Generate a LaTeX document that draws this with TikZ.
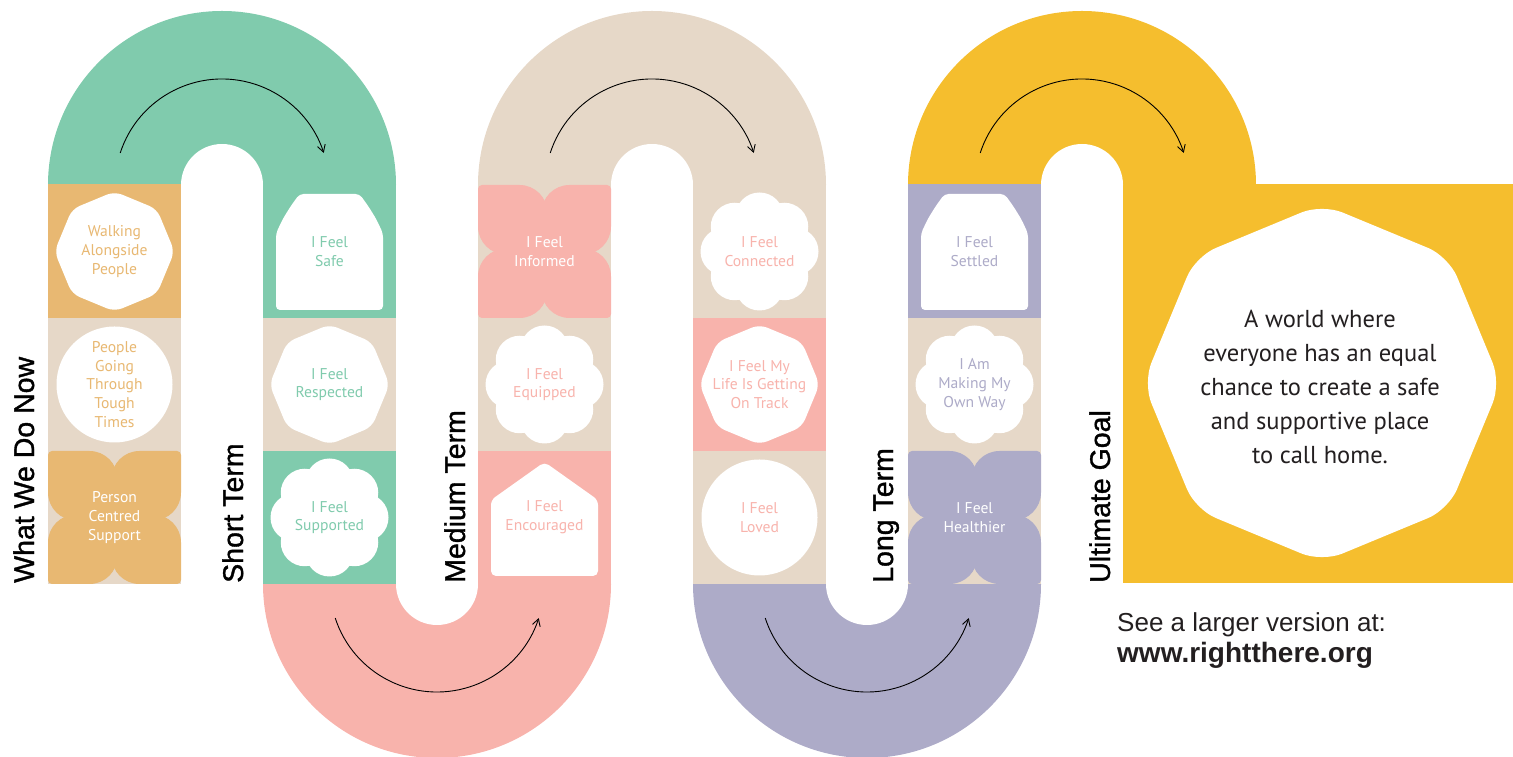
\documentclass[tikz,border=0pt]{standalone}
\usepackage{fontspec}
\setmainfont{PT Sans}
\newfontfamily\labelfont[FakeBold=1.2]{Liberation Sans}
\newfontfamily\footfont{Liberation Sans}
\usetikzlibrary{arrows.meta}
\definecolor{cgreen}{HTML}{80CBAD}
\definecolor{corange}{HTML}{E8B872}
\definecolor{cbeige}{HTML}{E6D8C8}
\definecolor{cpink}{HTML}{F8B3AC}
\definecolor{cpurple}{HTML}{ADABC8}
\definecolor{cyellow}{HTML}{F5BE2E}
\definecolor{cdark}{HTML}{231F20}
\newcommand{\ShapeOct}[4]{\begin{scope}[shift={(#1,#2)}]
  \fill[white,rounded corners=#4] (90:#3) -- (135:#3) -- (180:#3) -- (225:#3) -- (270:#3) -- (315:#3) -- (0:#3) -- (45:#3) -- cycle;
  \end{scope}}
\newcommand{\ShapeFlower}[2]{\begin{scope}[shift={(#1,#2)}]
  \fill[white] (0,0) circle[radius=40pt];
  \foreach \a in {90,135,...,405} \fill[white] (\a:35pt) circle[radius=24pt];
  \end{scope}}
\newcommand{\ShapeArch}[2]{\begin{scope}[shift={(#1,#2)}]
  \fill[white,rounded corners=4pt] (-53.5,-58.5) -- (-53.5,18) -- (-47,32) -- (-39,45) -- (-30,57.5) -- (30,57.5) -- (39,45) -- (47,32) -- (53.5,18) -- (53.5,-58.5) -- cycle;
  \end{scope}}
\newcommand{\ShapeHouse}[2]{\begin{scope}[shift={(#1,#2)}]
  \fill[white,rounded corners=5pt] (-53.5,-58.5) -- (-53.5,17.5) -- (0,55.5) -- (53.5,17.5) -- (53.5,-58.5) -- cycle;
  \end{scope}}
\newcommand{\ShapeQuad}[3]{\begin{scope}[shift={(#1,#2)}]
  \foreach \r in {0,90,180,270}
    \fill[#3,rotate=\r] (-66.5,62.5) arc[start angle=180,end angle=90,radius=4pt] -- (-25,66.5) arc[start angle=90,end angle=0,radius=28pt] -- (3,-3) -- (-38.5,-3) arc[start angle=270,end angle=180,radius=28pt] -- cycle;
  \end{scope}}
\newcommand{\ShapeDisc}[2]{\fill[white] (#1,#2) circle[radius=58pt];}
\begin{document}
\begin{tikzpicture}[x=1pt,y=1pt,
  celltext/.style={align=center,font=\fontsize{15.6}{18.6}\selectfont,inner sep=0pt},
  stagelabel/.style={rotate=90,anchor=base west,font=\labelfont\fontsize{28.5}{30}\selectfont,text=black,inner sep=0pt},
  flowarrow/.style={draw=black,line width=0.9pt,-{Straight Barb[length=7pt,width=8pt]}}]
\useasboundingbox (0,0) rectangle (1513,757);
\clip (0,0) rectangle (1513,757);
% bands
\fill[cgreen] (48,572) arc[start angle=180,end angle=0,radius=174pt] -- cycle;
\fill[cbeige] (478,572) arc[start angle=180,end angle=0,radius=174pt] -- cycle;
\fill[cyellow] (908,572) arc[start angle=180,end angle=0,radius=174pt] -- cycle;
\fill[cyellow] (1123,174) rectangle (1513,573);
\fill[cpink] (263,173) arc[start angle=180,end angle=360,radius=174pt] -- cycle;
\fill[cpurple] (693,173) arc[start angle=180,end angle=360,radius=174pt] -- cycle;
% column 1
\fill[corange] (48,439) rectangle (181,572.5);
\fill[cbeige] (48,306) rectangle (181,439);
\fill[cbeige] (48,173) rectangle (181,306);
% column 2
\fill[cgreen] (263,439) rectangle (396,572.5);
\fill[cbeige] (263,306) rectangle (396,439);
\fill[cgreen] (263,172.5) rectangle (396,306);
% column 3
\fill[cbeige] (478,439) rectangle (611,572.5);
\fill[cbeige] (478,306) rectangle (611,439);
\fill[cpink] (478,172.5) rectangle (611,306);
% column 4
\fill[cbeige] (693,439) rectangle (826,572.5);
\fill[cpink] (693,306) rectangle (826,439);
\fill[cbeige] (693,173) rectangle (826,306);
% column 5
\fill[cpurple] (908,439) rectangle (1041,572.5);
\fill[cbeige] (908,306) rectangle (1041,439);
\fill[cbeige] (908,173) rectangle (1041,306);
% inner holes
\fill[white] (222,572) circle[radius=41pt];
\fill[white] (652,572) circle[radius=41pt];
\fill[white] (1082,572) circle[radius=41pt];
\fill[white] (437,173) circle[radius=41pt];
\fill[white] (867,173) circle[radius=41pt];
% shapes
\ShapeOct{114.5}{505.5}{60pt}{8pt}
\ShapeDisc{114.5}{372.5}
\ShapeQuad{114.5}{239.5}{corange}
\ShapeArch{329.5}{505.5}
\ShapeOct{329.5}{372.5}{60pt}{8pt}
\ShapeFlower{329.5}{239.5}
\ShapeQuad{544.5}{505.5}{cpink}
\ShapeFlower{544.5}{372.5}
\ShapeHouse{544.5}{239.5}
\ShapeFlower{759.5}{505.5}
\ShapeOct{759.5}{372.5}{60pt}{8pt}
\ShapeDisc{759.5}{239.5}
\ShapeArch{974.5}{505.5}
\ShapeFlower{974.5}{372.5}
\ShapeQuad{974.5}{239.5}{cpurple}
% cell texts
\node[celltext,text=corange] (t11) at (114.5,505.5) {Walking\\Alongside\\People};
\node[celltext,text=corange] (t12) at (114.5,372.5) {People\\Going\\Through\\Tough\\Times};
\node[celltext,text=white] (t13) at (114.5,239.5) {Person\\Centred\\Support};
\node[celltext,text=cgreen] (t21) at (329.5,505.5) {I Feel\\Safe};
\node[celltext,text=cgreen] (t22) at (329.5,372.5) {I Feel\\Respected};
\node[celltext,text=cgreen] (t23) at (329.5,239.5) {I Feel\\Supported};
\node[celltext,text=white] (t31) at (544.5,505.5) {I Feel\\Informed};
\node[celltext,text=cpink] (t32) at (544.5,372.5) {I Feel\\Equipped};
\node[celltext,text=cpink] (t33) at (544.5,239.5) {I Feel\\Encouraged};
\node[celltext,text=cpink] (t41) at (759.5,505.5) {I Feel\\Connected};
\node[celltext,text=cpink] (t42) at (759.5,372.5) {I Feel My\\Life Is Getting\\On Track};
\node[celltext,text=cpink] (t43) at (759.5,239.5) {I Feel\\Loved};
\node[celltext,text=cpurple] (t51) at (974.5,505.5) {I Feel\\Settled};
\node[celltext,text=cpurple] (t52) at (974.5,372.5) {I Am\\Making My\\Own Way};
\node[celltext,text=white] (t53) at (974.5,239.5) {I Feel\\Healthier};
% goal
\ShapeOct{1322}{374}{179pt}{22pt}
\node[align=center,text=cdark,font=\fontsize{24.5}{34}\selectfont,inner sep=0pt] (goal) at (1320,370)
  {A world where\\everyone has an equal\\chance to create a safe\\and supportive place\\to call home.};
% stage labels
\node[stagelabel] (s1) at (34,174) {What We Do Now};
\node[stagelabel] (s2) at (243,174) {Short Term};
\node[stagelabel] (s3) at (465,174) {Medium Term};
\node[stagelabel] (s4) at (893,174) {Long Term};
\node[stagelabel] (s5) at (1110,174) {Ultimate Goal};
% arrows
\draw[flowarrow] (222,571) ++(162:107pt) arc[start angle=162,end angle=18,radius=107pt];
\draw[flowarrow] (652,571) ++(162:107pt) arc[start angle=162,end angle=18,radius=107pt];
\draw[flowarrow] (1082,571) ++(162:107pt) arc[start angle=162,end angle=18,radius=107pt];
\draw[flowarrow] (437,172) ++(198:107pt) arc[start angle=198,end angle=342,radius=107pt];
\draw[flowarrow] (867,172) ++(198:107pt) arc[start angle=198,end angle=342,radius=107pt];
% footer
\node[anchor=base west,inner sep=0pt,text=cdark,font=\footfont\fontsize{26}{30}\selectfont] (see) at (1117,125) {See a larger version at:};
\node[anchor=base west,inner sep=0pt,text=cdark,font=\footfont\bfseries\fontsize{28}{30}\selectfont] (url) at (1117,94) {www.rightthere.org};
\end{tikzpicture}
\end{document}
